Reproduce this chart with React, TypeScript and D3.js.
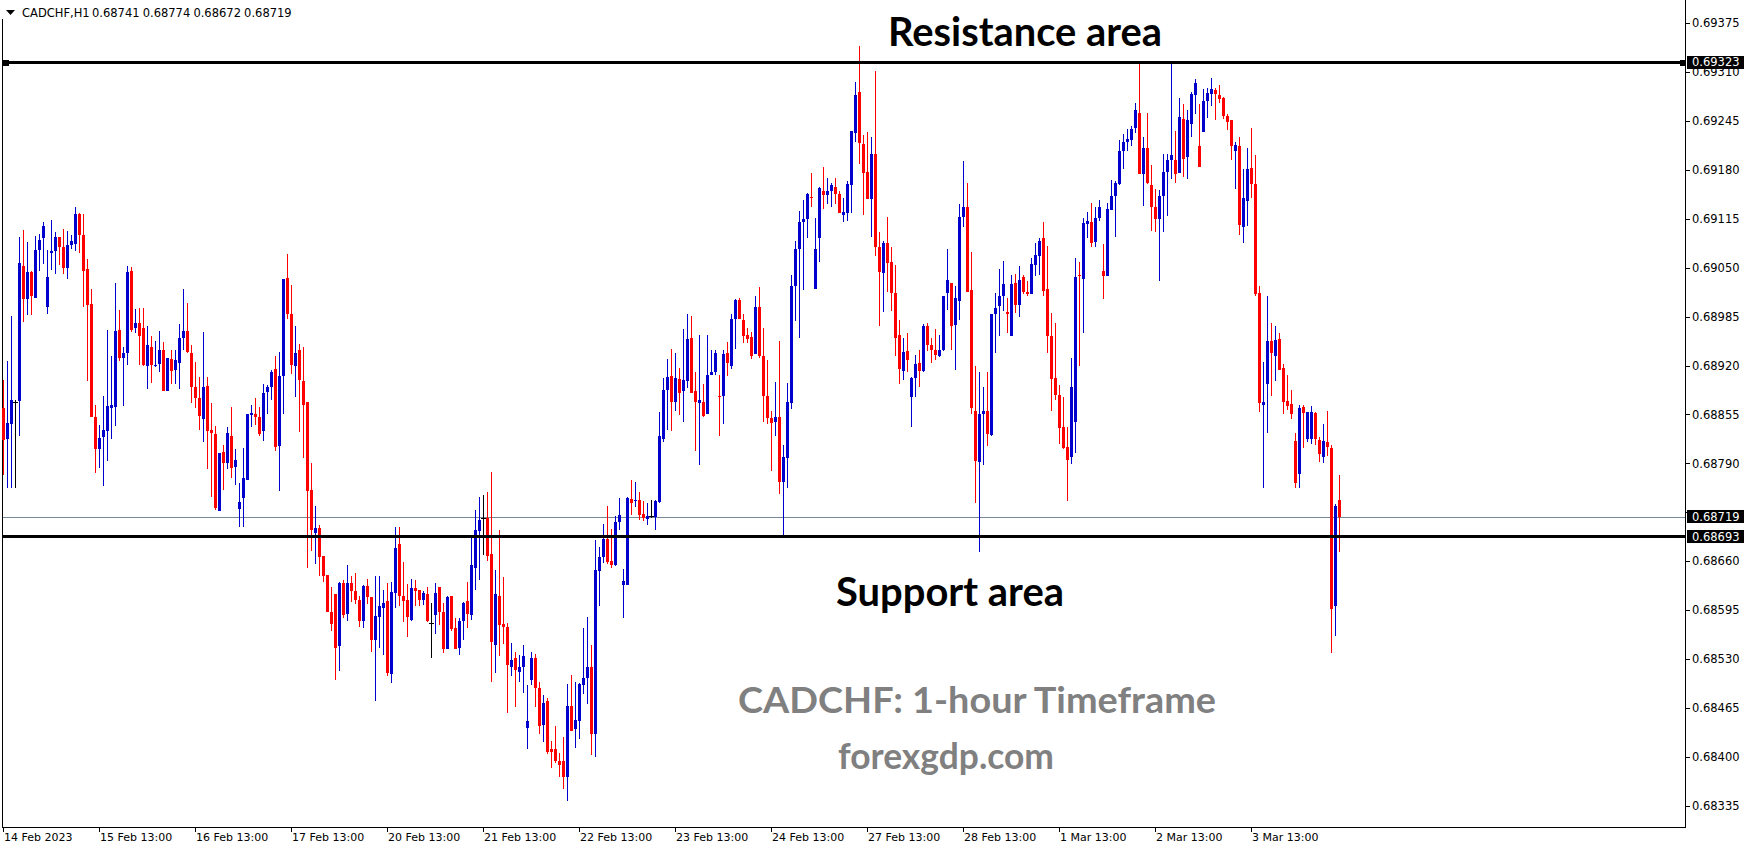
import React from "react";
import * as d3 from "d3";

// CADCHF H1 bars, prices in points (0.00001) above 0.68000
const opens = [
  863, 822, 843, 872, 873, 1052, 1009, 1044, 1010, 1073,
  1090, 998, 1070, 1072, 1091, 1078, 1049, 1080, 1082, 1121,
  1094, 1048, 1002, 851, 809, 825, 833, 864, 865, 967,
  930, 936, 1045, 970, 976, 970, 920, 944, 920, 922,
  940, 886, 929, 914, 924, 957, 966, 937, 891, 877,
  849, 893, 834, 829, 727, 805, 791, 826, 785, 729,
  744, 768, 854, 855, 852, 833, 885, 891, 915, 813,
  906, 1036, 988, 919, 940, 899, 871, 755, 697, 704,
  667, 642, 593, 616, 547, 631, 590, 631, 621, 609,
  580, 627, 613, 556, 586, 598, 607, 510, 618, 683,
  614, 608, 582, 625, 622, 609, 616, 578, 588, 626,
  593, 544, 614, 571, 545, 580, 607, 588, 651, 700,
  717, 717, 669, 549, 614, 577, 573, 519, 531, 513,
  520, 438, 502, 532, 492, 442, 475, 411, 410, 395,
  395, 374, 468, 437, 448, 496, 505, 519, 431, 647,
  666, 689, 660, 655, 712, 628, 628, 743, 740, 741,
  723, 716, 720, 719, 739, 823, 887, 906, 871, 902,
  886, 899, 957, 886, 870, 872, 855, 908, 911, 880,
  879, 936, 920, 982, 1007, 981, 960, 958, 935, 998,
  933, 880, 850, 845, 851, 765, 797, 870, 1025, 1075,
  1110, 1115, 1144, 1021, 1090, 1152, 1147, 1152, 1157, 1148,
  1120, 1123, 1160, 1229, 1283, 1214, 1177, 1141, 1201, 1077,
  1043, 1083, 1057, 1017, 961, 913, 939, 878, 904, 923,
  913, 973, 947, 941, 932, 940, 1017, 1030, 974, 1006,
  1117, 1130, 1020, 860, 792, 855, 860, 828, 988, 999,
  1012, 991, 959, 1030, 1001, 1037, 1018, 1015, 1054, 1066,
  1089, 1021, 959, 904, 881, 838, 812, 798, 845, 1040,
  1035, 1108, 1111, 1084, 1116, 1046, 1039, 1127, 1145, 1161,
  1205, 1217, 1219, 1236, 1256, 1174, 1209, 1160, 1131, 1115,
  1145, 1177, 1193, 1193, 1176, 1247, 1197, 1241, 1279, 1211,
  1230, 1272, 1281, 1286, 1279, 1276, 1251, 1246, 1205, 1211,
  1104, 1139, 1182, 1161, 1017, 867, 895, 952, 932, 955,
  917, 873, 869, 820, 776, 865, 822, 822, 857, 821,
  799, 818, 811, 601, 741,
];
const highs = [
  901, 926, 986, 874, 1091, 1100, 1084, 1045, 1092, 1095,
  1110, 1074, 1113, 1097, 1091, 1101, 1099, 1094, 1130, 1123,
  1121, 1061, 1021, 867, 841, 879, 967, 932, 1029, 994,
  944, 1052, 1051, 995, 996, 997, 973, 959, 952, 966,
  951, 930, 940, 940, 975, 1021, 1003, 947, 925, 905,
  964, 905, 870, 840, 804, 814, 838, 865, 809, 764,
  811, 855, 867, 877, 865, 895, 894, 914, 932, 938,
  1035, 1068, 1027, 972, 949, 945, 871, 791, 734, 708,
  667, 642, 626, 616, 632, 635, 655, 641, 644, 614,
  628, 636, 613, 640, 641, 622, 631, 633, 706, 705,
  659, 630, 636, 635, 622, 621, 626, 605, 631, 626,
  605, 614, 614, 584, 584, 606, 633, 694, 728, 745,
  748, 752, 778, 649, 701, 639, 578, 551, 539, 536,
  549, 495, 539, 537, 500, 483, 478, 421, 441, 405,
  426, 497, 509, 499, 498, 571, 586, 549, 688, 679,
  710, 734, 703, 720, 744, 650, 745, 768, 765, 752,
  740, 738, 742, 742, 858, 904, 929, 942, 937, 917,
  968, 989, 986, 912, 960, 896, 960, 941, 940, 908,
  941, 951, 989, 1008, 1010, 989, 970, 965, 1013, 1024,
  970, 928, 860, 898, 952, 814, 897, 1040, 1085, 1125,
  1140, 1149, 1176, 1116, 1157, 1184, 1169, 1163, 1169, 1152,
  1142, 1165, 1232, 1297, 1344, 1226, 1230, 1223, 1311, 1097,
  1086, 1117, 1077, 1054, 980, 956, 963, 905, 934, 940,
  975, 977, 957, 968, 960, 1013, 1075, 1030, 1025, 1134,
  1192, 1163, 1071, 920, 911, 891, 911, 988, 1016, 1048,
  1059, 1010, 1040, 1042, 1052, 1040, 1032, 1063, 1083, 1090,
  1111, 1079, 990, 977, 894, 878, 839, 930, 1063, 1057,
  1116, 1124, 1136, 1130, 1140, 1082, 1136, 1166, 1165, 1220,
  1227, 1234, 1238, 1269, 1322, 1224, 1255, 1186, 1155, 1153,
  1201, 1201, 1322, 1231, 1275, 1268, 1260, 1284, 1301, 1267,
  1287, 1288, 1302, 1289, 1293, 1277, 1254, 1246, 1217, 1223,
  1181, 1209, 1236, 1200, 1025, 925, 1013, 976, 972, 963,
  922, 908, 888, 830, 867, 867, 858, 866, 858, 825,
  842, 860, 815, 736, 774,
];
const lows = [
  774, 757, 757, 757, 827, 978, 987, 987, 1010, 1046,
  1055, 989, 1047, 1042, 1053, 1041, 1035, 1075, 1072, 1069,
  998, 900, 851, 777, 784, 760, 793, 822, 840, 926,
  866, 921, 965, 963, 921, 920, 889, 897, 918, 911,
  886, 886, 895, 895, 889, 940, 936, 870, 863, 834,
  819, 783, 745, 728, 727, 755, 782, 771, 761, 706,
  706, 768, 839, 841, 826, 820, 855, 874, 807, 753,
  856, 982, 909, 878, 832, 797, 651, 674, 657, 640,
  632, 592, 567, 502, 514, 584, 580, 606, 603, 573,
  572, 603, 540, 475, 545, 536, 508, 498, 598, 601,
  579, 559, 580, 600, 601, 602, 579, 532, 564, 576,
  538, 543, 567, 543, 535, 555, 571, 582, 622, 635,
  668, 660, 500, 512, 534, 550, 459, 508, 467, 499,
  485, 410, 495, 467, 431, 420, 404, 386, 392, 374,
  357, 341, 435, 412, 424, 484, 471, 402, 400, 600,
  658, 657, 651, 654, 702, 584, 628, 722, 732, 715,
  714, 708, 717, 701, 738, 819, 835, 833, 860, 854,
  845, 890, 883, 807, 788, 851, 855, 907, 907, 826,
  842, 906, 916, 942, 982, 950, 950, 929, 935, 930,
  845, 842, 780, 827, 749, 693, 757, 862, 979, 956,
  1020, 1090, 1131, 1021, 1058, 1128, 1134, 1131, 1134, 1122,
  1111, 1112, 1123, 1217, 1188, 1120, 1141, 1091, 1066, 973,
  991, 1018, 993, 933, 896, 901, 911, 838, 878, 891,
  911, 939, 923, 928, 931, 939, 994, 940, 914, 980,
  1104, 1018, 856, 737, 672, 788, 813, 826, 937, 959,
  992, 963, 959, 990, 985, 1015, 1013, 1015, 1039, 1040,
  1013, 937, 859, 874, 816, 809, 740, 789, 804, 920,
  963, 1089, 1078, 1078, 1112, 1008, 1039, 1127, 1091, 1160,
  1181, 1205, 1212, 1229, 1175, 1132, 1161, 1099, 1098, 1032,
  1097, 1118, 1168, 1163, 1176, 1171, 1168, 1224, 1254, 1184,
  1230, 1249, 1265, 1246, 1269, 1247, 1233, 1193, 1155, 1094,
  1083, 1105, 1143, 1012, 858, 757, 830, 880, 899, 914,
  855, 861, 849, 757, 757, 811, 818, 816, 814, 792,
  791, 800, 538, 561, 672,
];
const closes = [
  821, 844, 874, 872, 1056, 1009, 1044, 1012, 1073, 1087,
  1105, 1037, 1072, 1091, 1078, 1049, 1080, 1085, 1121, 1094,
  1046, 1000, 851, 809, 824, 835, 866, 867, 966, 930,
  936, 1044, 967, 976, 959, 921, 947, 921, 921, 940,
  886, 930, 913, 927, 956, 966, 938, 892, 877, 853,
  891, 833, 831, 731, 804, 791, 830, 784, 794, 739,
  770, 855, 857, 852, 829, 883, 892, 911, 812, 906,
  1035, 988, 921, 936, 901, 868, 753, 701, 704, 666,
  641, 593, 577, 545, 631, 588, 631, 621, 608, 580,
  627, 612, 555, 587, 600, 605, 511, 619, 677, 614,
  607, 586, 624, 621, 608, 618, 580, 578, 618, 593,
  543, 613, 570, 543, 581, 604, 590, 655, 701, 715,
  717, 667, 553, 616, 576, 573, 522, 529, 515, 520,
  534, 448, 531, 492, 441, 472, 407, 407, 395, 390,
  374, 468, 435, 449, 497, 505, 520, 431, 649, 666,
  690, 659, 655, 712, 721, 634, 744, 738, 741, 721,
  717, 720, 720, 740, 827, 888, 905, 871, 903, 883,
  901, 955, 883, 871, 874, 853, 908, 912, 936, 878,
  935, 924, 982, 1007, 982, 959, 955, 932, 998, 932,
  879, 850, 844, 851, 765, 799, 872, 1025, 1075, 1110,
  1115, 1148, 1143, 1075, 1156, 1147, 1152, 1160, 1148, 1122,
  1124, 1161, 1231, 1280, 1215, 1176, 1141, 1201, 1077, 1044,
  1083, 1056, 1017, 957, 916, 938, 928, 904, 922, 913,
  973, 947, 940, 934, 941, 1012, 1033, 973, 1010, 1117,
  1130, 1018, 863, 793, 855, 860, 829, 988, 997, 1012,
  1028, 988, 1028, 1001, 1033, 1018, 1015, 1055, 1067, 1086,
  1019, 959, 902, 881, 837, 811, 795, 891, 1037, 1039,
  1109, 1112, 1083, 1116, 1130, 1039, 1128, 1145, 1162, 1205,
  1217, 1221, 1234, 1260, 1175, 1209, 1163, 1131, 1115, 1145,
  1177, 1193, 1200, 1175, 1250, 1195, 1246, 1281, 1295, 1184,
  1272, 1282, 1287, 1281, 1274, 1251, 1244, 1211, 1213, 1107,
  1143, 1181, 1161, 1015, 870, 871, 952, 937, 954, 914,
  871, 866, 855, 764, 864, 857, 858, 858, 822, 802,
  820, 812, 596, 733, 719,
];

const timeLabels = [
  "14 Feb 2023", "15 Feb 13:00", "16 Feb 13:00", "17 Feb 13:00", "20 Feb 13:00",
  "21 Feb 13:00", "22 Feb 13:00", "23 Feb 13:00", "24 Feb 13:00", "27 Feb 13:00",
  "28 Feb 13:00", "1 Mar 13:00", "2 Mar 13:00", "3 Mar 13:00",
];
const barsPerLabel = 24;

// 0.68725 sits fully behind the bid marker in the original, so only its tick is drawn
const priceTicks = [
  0.69375, 0.6931, 0.69245, 0.6918, 0.69115, 0.6905, 0.68985, 0.6892, 0.68855,
  0.6879, 0.68725, 0.6866, 0.68595, 0.6853, 0.68465, 0.684, 0.68335,
];
const hiddenTicks = [0.68725];

const resistanceLevel = 0.69323;
const supportLevel = 0.68693;
const bidLevel = 0.68719;
const headerValues = ["0.68741", "0.68774", "0.68672", "0.68719"];

const W = 1749;
const H = 850;
const axisX = 1685;
const bottomY = 827;

const BLUE = "#0000cd";
const RED = "#ff0000";
const GREY = "#808080";
const axisFont = "'DejaVu Sans', Verdana, sans-serif";
const bigFont = "Lato, 'Open Sans', sans-serif";

const px = (v: number) => 0.68 + v / 100000;

export default function App() {
  const x = d3.scaleLinear().domain([0, 1]).range([3.5, 7.5]);
  const y = d3.scaleLinear().domain([0.684, 0.69375]).range([757, 23]);

  const candles = closes.map((c, i) => {
    const o = px(opens[i]);
    const cl = px(c);
    const hi = px(highs[i]);
    const lo = px(lows[i]);
    const color = opens[i] === c ? "#000" : c > opens[i] ? BLUE : RED;
    const cx = Math.round(x(i) - 0.5);
    const top = Math.round(y(Math.max(o, cl)));
    const bot = Math.round(y(Math.min(o, cl)));
    const wTop = Math.round(y(hi));
    const wBot = Math.round(y(lo));
    return (
      <g key={i} fill={color}>
        <rect x={cx} y={wTop} width={1} height={Math.max(1, wBot - wTop)} />
        {opens[i] === c ? (
          <rect x={cx - 2} y={top} width={5} height={1} />
        ) : (
          <rect x={cx - 1} y={top} width={3} height={Math.max(1, bot - top)} />
        )}
      </g>
    );
  });

  const yR = Math.round(y(resistanceLevel));
  const yS = Math.round(y(supportLevel));
  const yB = Math.round(y(bidLevel)) + 0.5;

  const marker = (level: number, label: string) => {
    const yy = y(level);
    return (
      <g key={label}>
        <rect x={axisX + 2} y={yy - 6.5} width={57} height={13} fill="#000" />
        <text x={axisX + 7} y={yy} dy="0.36em" fill="#fff" fontFamily={axisFont} fontSize={11.5}>
          {label}
        </text>
      </g>
    );
  };

  return (
    <svg width={W} height={H} style={{ display: "block" }} shapeRendering="crispEdges">
      <style>{`body{margin:0}`}</style>
      <rect width={W} height={H} fill="#fff" />

      {/* header */}
      <path d="M6,10 L15,10 L10.5,15 Z" fill="#000" shapeRendering="auto" />
      <g fontFamily={axisFont} fontSize={11.5} fill="#000">
        <text x={22} y={16.5}>CADCHF,H1</text>
        {headerValues.map((v, i) => (
          <text key={v + i} x={92 + i * 50.7} y={16.5}>{v}</text>
        ))}
      </g>

      {/* frame */}
      <rect x={2} y={19} width={1} height={bottomY - 19} fill="#000" />
      <rect x={axisX} y={0} width={1} height={bottomY + 1} fill="#000" />
      <rect x={2} y={bottomY} width={axisX - 2} height={1} fill="#000" />

      {/* bid line */}
      <line x1={3} x2={axisX} y1={yB} y2={yB} stroke="#778899" strokeWidth={1} />

      {candles}

      {/* horizontal levels */}
      <rect x={3} y={yR - 1} width={axisX - 3} height={3} fill="#000" />
      <rect x={3} y={yR - 2.5} width={6} height={6} fill="#000" />
      <rect x={axisX - 5} y={yR - 2.5} width={6} height={6} fill="#000" />
      <rect x={3} y={yS - 1} width={axisX - 3} height={3} fill="#000" />

      {/* price axis */}
      <g fontFamily={axisFont} fontSize={11.5} fill="#000">
        {priceTicks.map((t) => (
          <g key={t}>
            <rect x={axisX + 1} y={Math.round(y(t))} width={4} height={1} />
            {hiddenTicks.includes(t) ? null : (
              <text x={axisX + 7} y={y(t)} dy="0.36em">{t.toFixed(5)}</text>
            )}
          </g>
        ))}
      </g>
      {marker(resistanceLevel, "0.69323")}
      {marker(bidLevel, "0.68719")}
      {marker(supportLevel, "0.68693")}

      {/* time axis */}
      <g fontFamily={axisFont} fontSize={11} fill="#000">
        {timeLabels.map((t, k) => {
          const xx = Math.round(x(k * barsPerLabel) - 0.5);
          return (
            <g key={t}>
              <rect x={xx} y={bottomY + 1} width={1} height={4} />
              <text x={xx + 1} y={bottomY + 14}>{t}</text>
            </g>
          );
        })}
      </g>

      {/* annotations */}
      <g fontFamily={bigFont} fontWeight={700} shapeRendering="auto">
        <text x={888} y={46} fontSize={40} fill="#000" textLength={274} lengthAdjust="spacingAndGlyphs">
          Resistance area
        </text>
        <text x={836} y={606} fontSize={40} fill="#000" textLength={228} lengthAdjust="spacingAndGlyphs">
          Support area
        </text>
        <text x={738} y={713} fontSize={37} fill={GREY} textLength={478} lengthAdjust="spacingAndGlyphs">
          CADCHF: 1-hour Timeframe
        </text>
        <text x={838} y={769} fontSize={36} fill={GREY} textLength={216} lengthAdjust="spacingAndGlyphs">
          forexgdp.com
        </text>
      </g>
    </svg>
  );
}
